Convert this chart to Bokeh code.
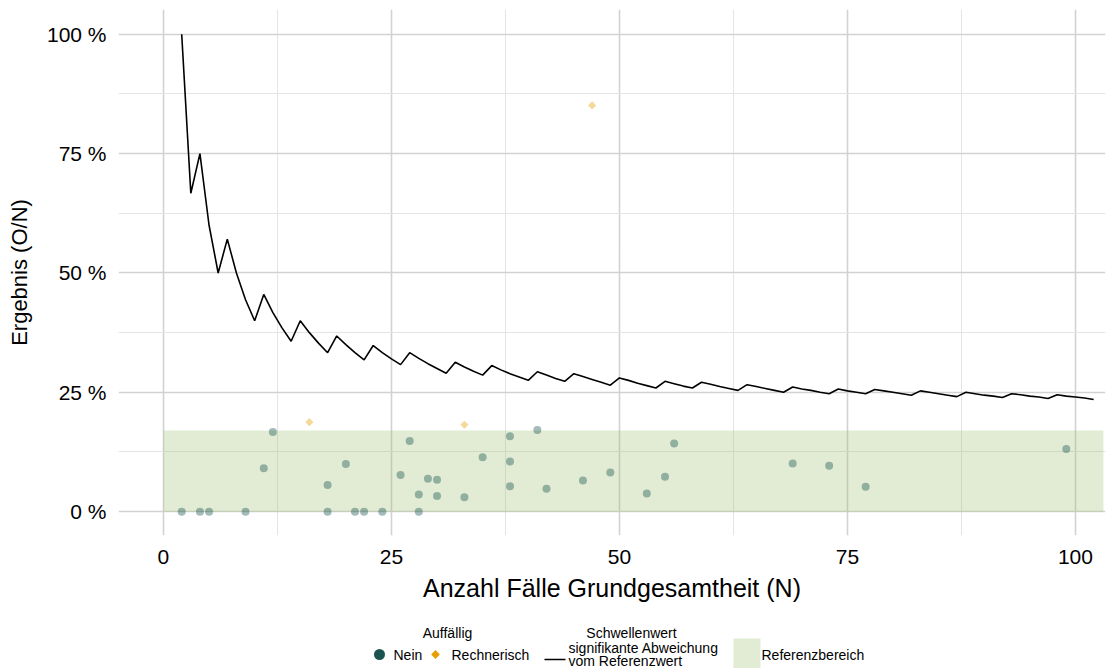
from bokeh.plotting import figure
from bokeh.models import Range1d, FixedTicker
from bokeh.layouts import column
from bokeh.embed import file_html
from bokeh.resources import INLINE
from bokeh.core.properties import value

# ---------------- data ----------------
threshold_n = list(range(2, 103))
threshold_pct = [
    100.0, 66.7, 75.0, 60.0, 50.0, 57.1, 50.0, 44.4, 40.0, 45.5,
    41.7, 38.5, 35.7, 40.0, 37.5, 35.3, 33.3, 36.8, 35.0, 33.3,
    31.8, 34.8, 33.3, 32.0, 30.8, 33.3, 32.1, 31.0, 30.0, 29.0,
    31.3, 30.3, 29.4, 28.6, 30.6, 29.7, 28.9, 28.2, 27.5, 29.3,
    28.6, 27.9, 27.3, 28.9, 28.3, 27.7, 27.1, 26.5, 28.0, 27.5,
    26.9, 26.4, 25.9, 27.3, 26.8, 26.3, 25.9, 27.1, 26.7, 26.2,
    25.8, 25.4, 26.6, 26.2, 25.8, 25.4, 25.0, 26.1, 25.7, 25.4,
    25.0, 24.7, 25.7, 25.3, 25.0, 24.7, 25.6, 25.3, 25.0, 24.7,
    24.4, 25.3, 25.0, 24.7, 24.4, 24.1, 25.0, 24.7, 24.4, 24.2,
    23.9, 24.7, 24.5, 24.2, 24.0, 23.7, 24.5, 24.2, 24.0, 23.8,
    23.5,
]

nein_n = [2, 4, 5, 9, 11, 12, 18, 18, 20, 21, 22, 24, 26, 27, 28, 28, 29, 30, 30,
          33, 35, 38, 38, 38, 41, 42, 46, 49, 53, 55, 56, 69, 73, 77, 99]
nein_pct = [0, 0, 0, 0, 9.1, 16.7, 5.6, 0, 10.0, 0, 0, 0, 7.7, 14.8, 3.6, 0, 6.9, 6.7, 3.3,
            3.0, 11.4, 15.8, 10.5, 5.3, 17.1, 4.8, 6.5, 8.2, 3.8, 7.3, 14.3, 10.1, 9.6, 5.2, 13.1]

rech_n = [16, 33, 47]
rech_pct = [18.75, 18.2, 85.1]

ref_x = [0, 103.07]
ref_y = [0, 17.0]

x_ticks = [0, 25, 50, 75, 100]
x_minor = [12.5, 37.5, 62.5, 87.5]
y_ticks = [0, 25, 50, 75, 100]
y_minor = [12.5, 37.5, 62.5, 87.5]
y_tick_labels = ["0 %", "25 %", "50 %", "75 %", "100 %"]

x_title = "Anzahl Fälle Grundgesamtheit (N)"
y_title = "Ergebnis (O/N)"

# ---------------- styles ----------------
FONT = "Liberation Sans"
NEIN_COL = "#1a5450"
RECH_COL = "#e69f00"
REF_COL = "#9fc070"

p = figure(width=1106, height=612, output_backend="svg", toolbar_location=None,
           x_range=Range1d(-4.93, 103.3), y_range=Range1d(-5.0, 105.2),
           min_border_left=118, min_border_right=1, min_border_top=9, min_border_bottom=77)
p.outline_line_color = None
p.background_fill_color = "white"

p.xaxis.ticker = FixedTicker(ticks=x_ticks, minor_ticks=x_minor)
p.yaxis.ticker = FixedTicker(ticks=y_ticks, minor_ticks=y_minor)
p.yaxis.major_label_overrides = {t: l for t, l in zip(y_ticks, y_tick_labels)}

for ax in (p.xaxis, p.yaxis):
    ax.axis_line_color = None
    ax.major_tick_line_color = None
    ax.minor_tick_line_color = None
    ax.major_label_text_font = FONT
    ax.major_label_text_font_size = "21px"
    ax.major_label_text_color = "black"
    ax.axis_label_text_font = FONT
    ax.axis_label_text_font_style = "normal"
    ax.axis_label_text_color = "black"

p.xaxis.axis_label_text_font_size = "25px"
p.yaxis.axis_label_text_font_size = "22px"
p.xaxis.axis_label = x_title
p.yaxis.axis_label = y_title
p.xaxis.major_label_standoff = 8
p.yaxis.major_label_standoff = 6
p.xaxis.axis_label_standoff = 7
p.yaxis.axis_label_standoff = 12

for g in (p.xgrid, p.ygrid):
    g.grid_line_color = "#d2d2d2"
    g.grid_line_width = 1.6
    g.minor_grid_line_color = "#e4e4e4"
    g.minor_grid_line_width = 1.0

# reference range
p.quad(left=[ref_x[0]], right=[ref_x[1]], bottom=[ref_y[0]], top=[ref_y[1]],
       fill_color=REF_COL, fill_alpha=0.3, line_color=None)

# threshold line
p.line(threshold_n, threshold_pct, line_color="black", line_width=1.6)

# points
p.scatter(nein_n, nein_pct, marker="circle", size=8, fill_color=NEIN_COL, fill_alpha=0.4,
          line_color=None)
p.scatter(rech_n, rech_pct, marker="square", angle=0.785398, size=5.8, fill_color=RECH_COL,
          fill_alpha=0.4, line_color=None)

# ---------------- legend (page coordinates; frame aligned with main plot frame) ----------------
leg = figure(width=1106, height=56, output_backend="svg", toolbar_location=None,
             x_range=Range1d(118, 1105), y_range=Range1d(668, 612),
             x_axis_location=None, y_axis_location=None,
             min_border_left=118, min_border_right=1, min_border_top=0, min_border_bottom=0)
leg.outline_line_color = None
leg.xgrid.visible = False
leg.ygrid.visible = False

LFS = "14px"
def ltext(x, y, t, align="left"):
    leg.text(x=[x], y=[y], text=[t], text_font=value(FONT), text_font_size=LFS,
             text_align=align, text_baseline="middle", text_color="black")

ltext(447, 632, "Auffällig", "center")
leg.scatter([379], [654], marker="circle", size=11, fill_color=NEIN_COL, line_color=None)
ltext(393, 654, "Nein")
leg.scatter([435], [654], marker="square", angle=0.785398, size=6.2, fill_color=RECH_COL,
            line_color=None)
ltext(451, 654, "Rechnerisch")

ltext(631, 632, "Schwellenwert", "center")
leg.line([544, 565], [659, 659], line_color="black", line_width=1.6)
ltext(568, 647, "signifikante Abweichung")
ltext(568, 660, "vom Referenzwert")

leg.quad(left=[733], right=[760], top=[638], bottom=[668], fill_color=REF_COL,
         fill_alpha=0.3, line_color=None)
ltext(761, 654, "Referenzbereich")

layout = column(p, leg, spacing=0)
open("out.html", "w").write(file_html(layout, INLINE))
